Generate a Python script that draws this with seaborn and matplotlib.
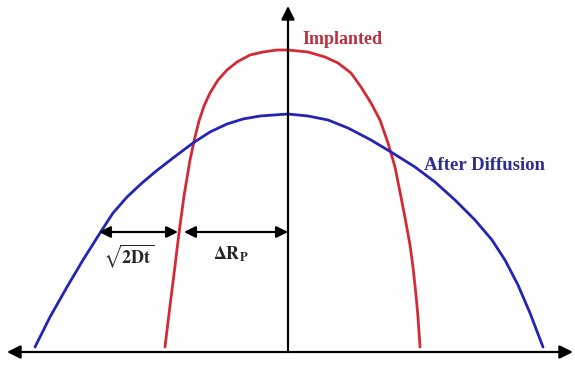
import numpy as np
import pandas as pd
import seaborn as sns
import matplotlib
matplotlib.use("Agg")
import matplotlib.pyplot as plt

# profiles: depth (relative to peak) vs concentration (arb. units)
implanted_depth = [-123, -120, -117, -113, -109, -104, -98, -93, -89, -84,
                   -78, -70, -61, -51, -38, -25, -11, 0, 20, 37,
                   50, 63, 73, 83, 92, 100, 107, 113, 118, 122,
                   125, 128, 130, 132]
implanted_conc = [5, 30, 54, 86, 119, 156, 192, 215, 231, 246,
                  259, 272, 282, 290, 297, 300, 302, 302, 300, 295,
                  289, 279, 265, 249, 232, 209, 185, 155, 129, 107,
                  85, 57, 35, 5]

diffused_depth = [-253, -238, -221, -205, -188, -175, -161, -146, -133, -115,
                  -95, -78, -61, -45, -28, 0, 20, 40, 60, 83,
                  103, 127, 147, 167, 187, 204, 217, 230, 242, 255]
diffused_conc = [5, 35, 65, 92, 119, 139, 155, 169, 180, 194,
                 209, 220, 228, 233, 236, 238, 236, 232, 224, 212,
                 200, 185, 170, 152, 132, 112, 92, 67, 39, 5]

implanted = pd.DataFrame({"depth": implanted_depth, "conc": implanted_conc})
diffused = pd.DataFrame({"depth": diffused_depth, "conc": diffused_conc})

sns.set_style("white")
plt.rcParams["mathtext.fontset"] = "stix"

fig = plt.figure(figsize=(5.75, 3.68), dpi=100)
ax = fig.add_axes([0, 0, 1, 1])

red = "#d42a36"
blue = "#2424b4"
sns.lineplot(data=implanted, x="depth", y="conc", sort=False, estimator=None,
             color=red, lw=2.0, ax=ax, solid_joinstyle="round")
sns.lineplot(data=diffused, x="depth", y="conc", sort=False, estimator=None,
             color=blue, lw=2.0, ax=ax, solid_joinstyle="round")

ax.set_xlim(-288, 287)
ax.set_ylim(-16, 352)
ax.axis("off")

# axes drawn as arrows
ax.annotate("", xy=(285, 0), xytext=(-281, 0),
            arrowprops=dict(arrowstyle="<|-|>", color="black", lw=1.6,
                            mutation_scale=20, shrinkA=0, shrinkB=0))
ax.annotate("", xy=(0, 346), xytext=(0, 0),
            arrowprops=dict(arrowstyle="-|>", color="black", lw=1.6,
                            mutation_scale=20, shrinkA=0, shrinkB=0))

# width markers
ax.annotate("", xy=(-110, 120), xytext=(-189, 120),
            arrowprops=dict(arrowstyle="<|-|>", color="black", lw=1.6,
                            mutation_scale=17, shrinkA=0, shrinkB=0))
ax.annotate("", xy=(0, 120), xytext=(-104, 120),
            arrowprops=dict(arrowstyle="<|-|>", color="black", lw=1.6,
                            mutation_scale=17, shrinkA=0, shrinkB=0))

ax.text(-159, 96, r"$\sqrt{\mathbf{2Dt}}$", fontsize=13, ha="center", va="center")
ax.text(-57, 98, r"$\mathbf{\Delta R_P}$", fontsize=13, ha="center", va="center")

ax.text(14, 312, "Implanted", color="#b8323e", fontsize=13, fontweight="bold",
        family="Liberation Serif", ha="left", va="center")
ax.text(136, 187, "After Diffusion", color="#2e2e90", fontsize=13.5, fontweight="bold",
        family="Liberation Serif", ha="left", va="center")

fig.savefig("out.png", dpi=100)
